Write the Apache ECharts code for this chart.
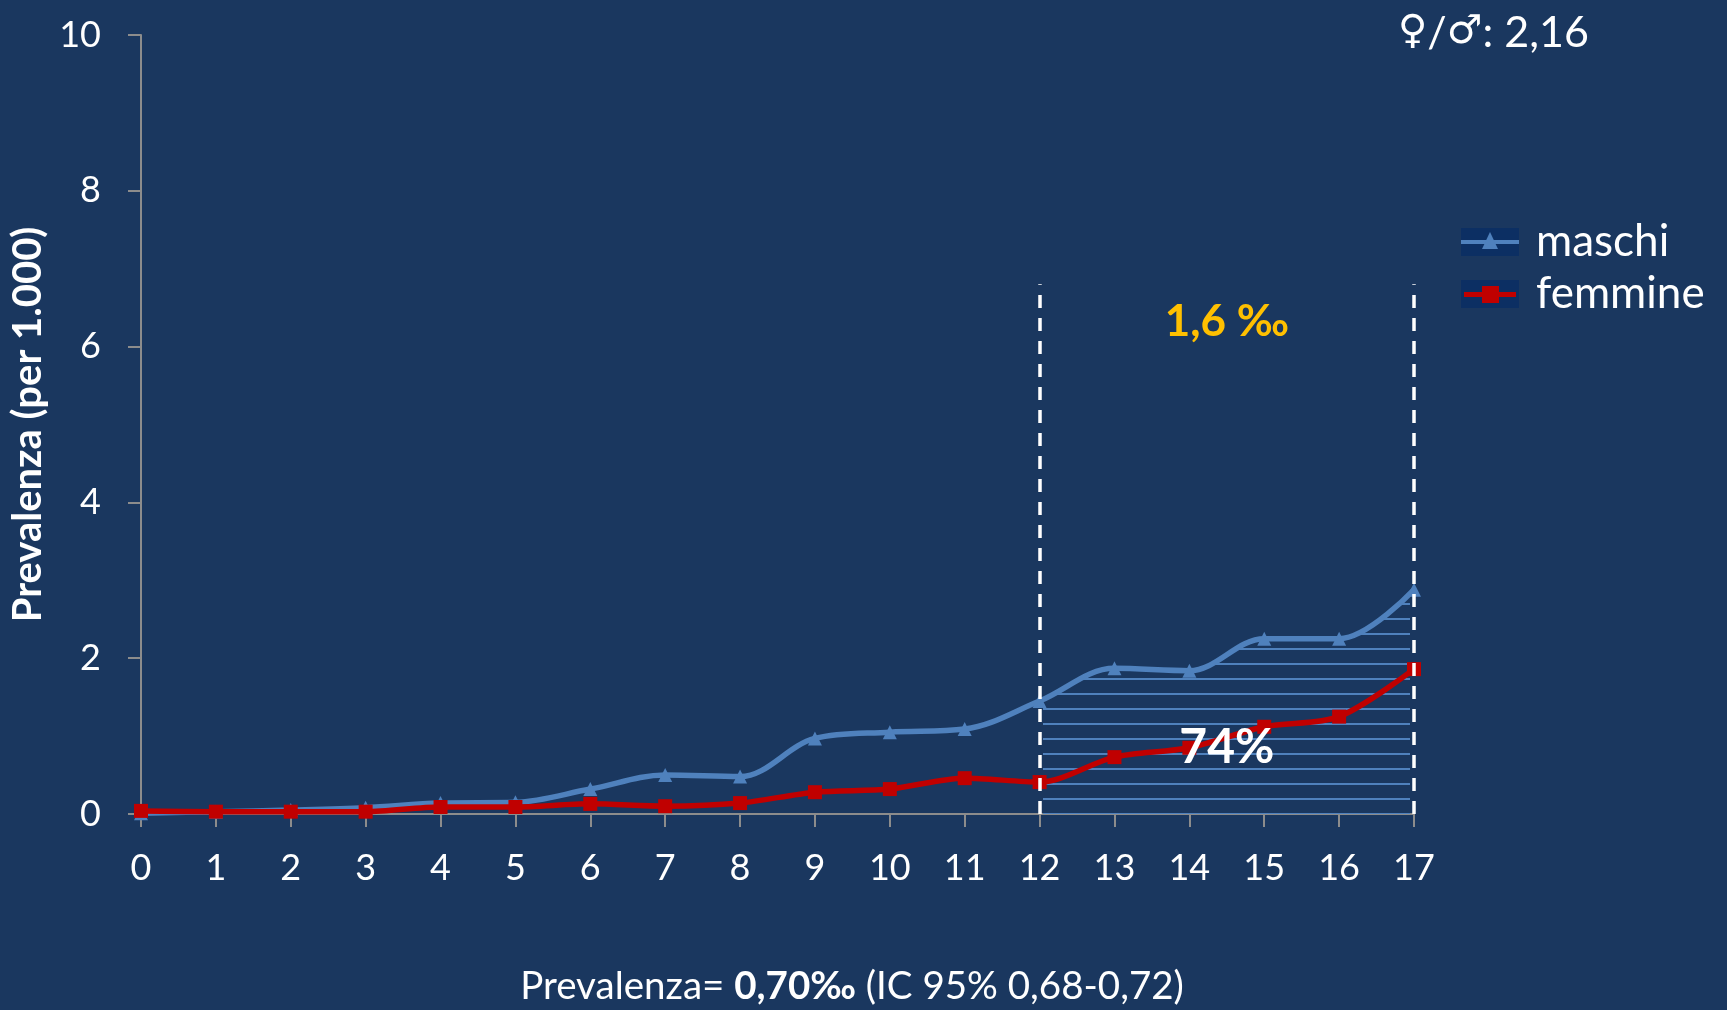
<!DOCTYPE html>
<html>
<head>
<meta charset="utf-8">
<script src="https://cdn.jsdelivr.net/npm/echarts@6/dist/echarts.min.js"></script>
<style>
  html, body { margin: 0; padding: 0; background: #1a375f; }
  #chart { width: 1727px; height: 1010px; }
</style>
</head>
<body>
<div id="chart"></div>
<script>
// Età (anni)
const ages = [0, 1, 2, 3, 4, 5, 6, 7, 8, 9, 10, 11, 12, 13, 14, 15, 16, 17];
// Prevalenza per 1.000, per sesso
const maschi = [0.01, 0.03, 0.05, 0.08, 0.14, 0.15, 0.32, 0.50, 0.48, 0.97, 1.05, 1.09, 1.45, 1.87, 1.84, 2.25, 2.25, 2.88];
const femmine = [0.04, 0.03, 0.03, 0.03, 0.09, 0.09, 0.13, 0.10, 0.14, 0.28, 0.32, 0.46, 0.41, 0.73, 0.85, 1.12, 1.25, 1.86];
// Fascia 12-17 anni evidenziata
const fasciaInizio = 12;
const fasciaFine = 17;
const fasciaTop = 6.8;
const quotaFascia = '74%';
const prevalenzaFascia = '1,6 ‰';
const rapportoSessi = '2,16';

const FONT = 'Lato, "Noto Sans", sans-serif';
const SYMFONT = '"DejaVu Sans", sans-serif';
const BG = '#1a375f';
const BLUE = '#4f81bd';
const RED = '#c00000';
const AXIS = '#8c8c8c';

const toPairs = arr => ages.map((a, i) => [a, arr[i]]);

// Legend keys: dark box with line and marker
function legendKey(kind) {
  const c = document.createElement('canvas');
  c.width = 58; c.height = 28;
  const g = c.getContext('2d');
  g.fillStyle = '#0c2f63';
  g.fillRect(0, 0, 58, 28);
  if (kind === 'm') {
    g.fillStyle = BLUE;
    g.fillRect(0, 12, 58, 4);
    g.beginPath();
    g.moveTo(29, 4); g.lineTo(37, 21); g.lineTo(21, 21); g.closePath();
    g.fill();
  } else {
    g.fillStyle = RED;
    g.fillRect(3, 12, 52, 5);
    g.fillRect(21, 6, 17, 17);
  }
  return 'image://' + c.toDataURL();
}

const chart = echarts.init(document.getElementById('chart'), null, { renderer: 'canvas' });

const option = {
  backgroundColor: BG,
  animation: false,
  textStyle: { fontFamily: FONT },
  grid: { left: 141, right: 313, top: 35, bottom: 196, containLabel: false },
  legend: {
    data: [
      { name: 'maschi', icon: legendKey('m') },
      { name: 'femmine', icon: legendKey('f') }
    ],
    orient: 'vertical',
    left: 1456,
    top: 215,
    itemWidth: 58,
    itemHeight: 28,
    itemGap: 8,
    textStyle: { color: '#ffffff', fontSize: 44, fontFamily: FONT, padding: [0, 0, 0, 12] }
  },
  xAxis: {
    type: 'value',
    min: 0,
    max: 17,
    interval: 1,
    axisLine: { show: true, onZero: false, lineStyle: { color: AXIS, width: 2 } },
    axisTick: { show: true, length: 13, lineStyle: { color: AXIS, width: 2 } },
    axisLabel: { color: '#ffffff', fontSize: 36, margin: 36, fontFamily: FONT },
    splitLine: { show: false }
  },
  yAxis: {
    type: 'value',
    min: 0,
    max: 10,
    interval: 2,
    name: 'Prevalenza (per 1.000)',
    nameLocation: 'middle',
    nameGap: 81,
    nameTextStyle: { color: '#ffffff', fontSize: 40, fontWeight: 'bold', fontFamily: FONT },
    axisLine: { show: true, lineStyle: { color: AXIS, width: 2 } },
    axisTick: { show: true, length: 13, lineStyle: { color: AXIS, width: 2 } },
    axisLabel: { color: '#ffffff', fontSize: 36, margin: 40, fontFamily: FONT },
    splitLine: { show: false }
  },
  series: [
    {
      // hatched area under the male curve, ages 12-17
      id: 'fascia',
      type: 'line',
      data: toPairs(maschi),
      smooth: 0.35,
      symbol: 'none',
      silent: true,
      lineStyle: { width: 0, opacity: 0 },
      areaStyle: { color: 'rgba(0,0,0,0)', opacity: 1 },
      z: 1,
      markLine: {
        silent: true,
        symbol: ['none', 'none'],
        label: { show: false },
        lineStyle: { color: '#ffffff', width: 3.5, type: [13, 10] },
        data: [
          [{ coord: [fasciaInizio, 0] }, { coord: [fasciaInizio, fasciaTop] }],
          [{ coord: [fasciaFine, 0] }, { coord: [fasciaFine, fasciaTop] }]
        ]
      }
    },
    {
      name: 'maschi',
      type: 'line',
      data: toPairs(maschi),
      smooth: 0.35,
      symbol: 'triangle',
      symbolSize: 14,
      lineStyle: { color: BLUE, width: 5.5 },
      itemStyle: { color: BLUE },
      z: 3
    },
    {
      name: 'femmine',
      type: 'line',
      data: toPairs(femmine),
      smooth: 0.3,
      symbol: 'rect',
      symbolSize: 14,
      lineStyle: { color: RED, width: 5.5 },
      itemStyle: { color: RED },
      z: 4,
      markPoint: {
        silent: true,
        symbol: 'circle',
        symbolSize: 0,
        data: [
          {
            coord: [(fasciaInizio + fasciaFine) / 2, 6.32],
            label: { show: true, position: 'inside', formatter: prevalenzaFascia, color: '#ffc000', fontSize: 44, fontWeight: 'bold', fontFamily: FONT }
          },
          {
            coord: [(fasciaInizio + fasciaFine) / 2, 0.85],
            label: { show: true, position: 'inside', formatter: quotaFascia, color: '#ffffff', fontSize: 48, fontWeight: 'bold', fontFamily: FONT }
          }
        ]
      }
    }
  ],
  graphic: [
    {
      type: 'text',
      x: 1398,
      y: 33,
      style: {
        text: '{s|♀}{t|/}{s|♂}{t|: ' + rapportoSessi + '}',
        verticalAlign: 'middle',
        rich: {
          s: { fill: '#ffffff', fontSize: 40, fontFamily: SYMFONT },
          t: { fill: '#ffffff', fontSize: 43, fontFamily: FONT }
        }
      }
    },
    {
      type: 'text',
      x: 852,
      y: 987,
      style: {
        text: '{n|Prevalenza= }{b|0,70‰}{n| (IC 95% 0,68-0,72)}',
        align: 'center',
        verticalAlign: 'middle',
        rich: {
          n: { fill: '#ffffff', fontSize: 38.5, fontFamily: FONT },
          b: { fill: '#ffffff', fontSize: 38.5, fontWeight: 'bold', fontFamily: FONT }
        }
      }
    }
  ]
};

chart.setOption(option);

// Horizontal hatching between the age 12 and 17 markers, aligned on the x axis
const p0 = chart.convertToPixel({ xAxisIndex: 0, yAxisIndex: 0 }, [fasciaInizio, 0]);
const p1 = chart.convertToPixel({ xAxisIndex: 0, yAxisIndex: 0 }, [fasciaFine, 0]);
const period = 15;
const pat = document.createElement('canvas');
pat.width = chart.getWidth();
pat.height = period;
const pg = pat.getContext('2d');
pg.fillStyle = BLUE;
const row = Math.round(p0[1]) % period;
pg.fillRect(Math.round(p0[0]) + 3, row - 1, Math.round(p1[0] - p0[0]) - 7, 2);

chart.setOption({
  series: [{ id: 'fascia', areaStyle: { color: { image: pat, repeat: 'repeat' }, opacity: 1 } }]
});
</script>
</body>
</html>
